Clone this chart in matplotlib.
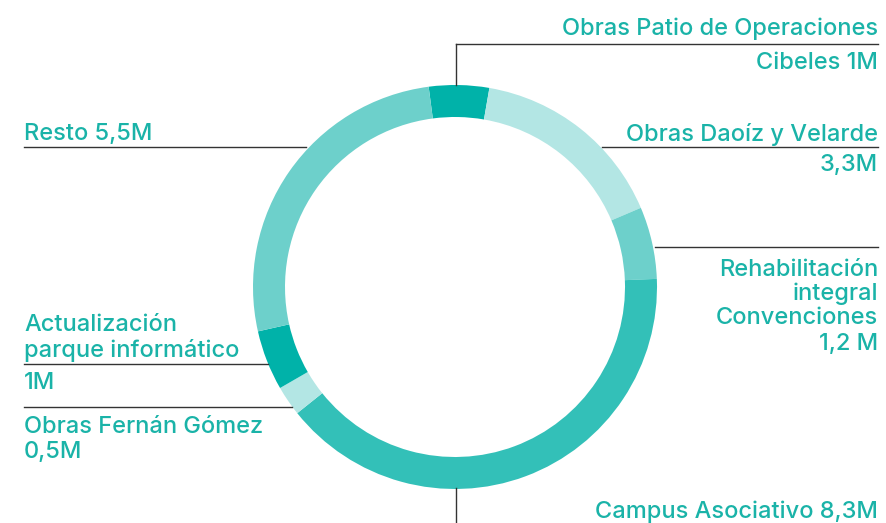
import matplotlib.pyplot as plt

plt.rcParams['font.family'] = ['Inter', 'DejaVu Sans']

partidas = ['Obras Patio de Operaciones Cibeles', 'Obras Daoíz y Velarde',
            'Rehabilitación integral Convenciones', 'Campus Asociativo',
            'Obras Fernán Gómez', 'Actualización parque informático', 'Resto']
importes = [1.0, 3.3, 1.2, 8.3, 0.5, 1.0, 5.5]
etiquetas_importe = ['1M', '3,3M', '1,2 M', '8,3M', '0,5M', '1M', '5,5M']
colores = ['#00b2a9', '#b3e6e4', '#6dd0cb', '#33c0b8', '#b3e6e4', '#00b2a9', '#6dd0cb']

W, H = 887, 523
texto = '#1ab3a8'
linea = '#333333'

fig = plt.figure(figsize=(W / 100, H / 100), dpi=100)
ax = fig.add_axes([0, 0, 1, 1])

cx, cy = 455, H - 287
ax.pie(importes, colors=colores, center=(cx, cy), radius=202,
       startangle=97.5, counterclock=False,
       wedgeprops=dict(width=32, edgecolor='none'))

ax.set_xlim(0, W)
ax.set_ylim(0, H)
ax.set_aspect('equal')
ax.axis('off')


def Y(y):
    return H - y


def lin(x0, x1, y):
    ax.plot([x0, x1], [Y(y), Y(y)], color=linea, lw=1)


def txt(x, y, s, ha):
    # va='center' incluye descendentes; bajamos un poco para cuadrar
    ax.text(x, Y(y + 2), s, ha=ha, va='center', color=texto, fontsize=17,
            fontweight='medium')


# Cibeles
ax.plot([456, 456], [Y(85), Y(44)], color=linea, lw=1)
lin(456, 878, 44)
txt(878, 27, 'Obras Patio de Operaciones', 'right')
txt(878, 61, 'Cibeles ' + etiquetas_importe[0], 'right')

# Daoíz y Velarde
lin(602, 878, 147)
txt(878, 132, partidas[1], 'right')
txt(878, 163, etiquetas_importe[1], 'right')

# Rehabilitación
lin(655, 878, 247)
txt(878, 268, 'Rehabilitación', 'right')
txt(878, 292, 'integral', 'right')
txt(878, 316, 'Convenciones', 'right')
txt(878, 342, etiquetas_importe[2], 'right')

# Campus
ax.plot([456, 456], [Y(488), Y(523)], color=linea, lw=1)
txt(878, 510, partidas[3] + ' ' + etiquetas_importe[3], 'right')

# Resto
lin(24, 306, 147)
txt(24, 132, partidas[6] + ' ' + etiquetas_importe[6], 'left')

# Actualización
txt(24, 323, 'Actualización', 'left')
txt(24, 348, 'parque informático', 'left')
lin(24, 268, 364)
txt(24, 381, etiquetas_importe[5], 'left')

# Fernán Gómez
lin(24, 292, 407)
txt(24, 425, partidas[4], 'left')
txt(24, 450, etiquetas_importe[4], 'left')

fig.savefig('out.png', dpi=100)
